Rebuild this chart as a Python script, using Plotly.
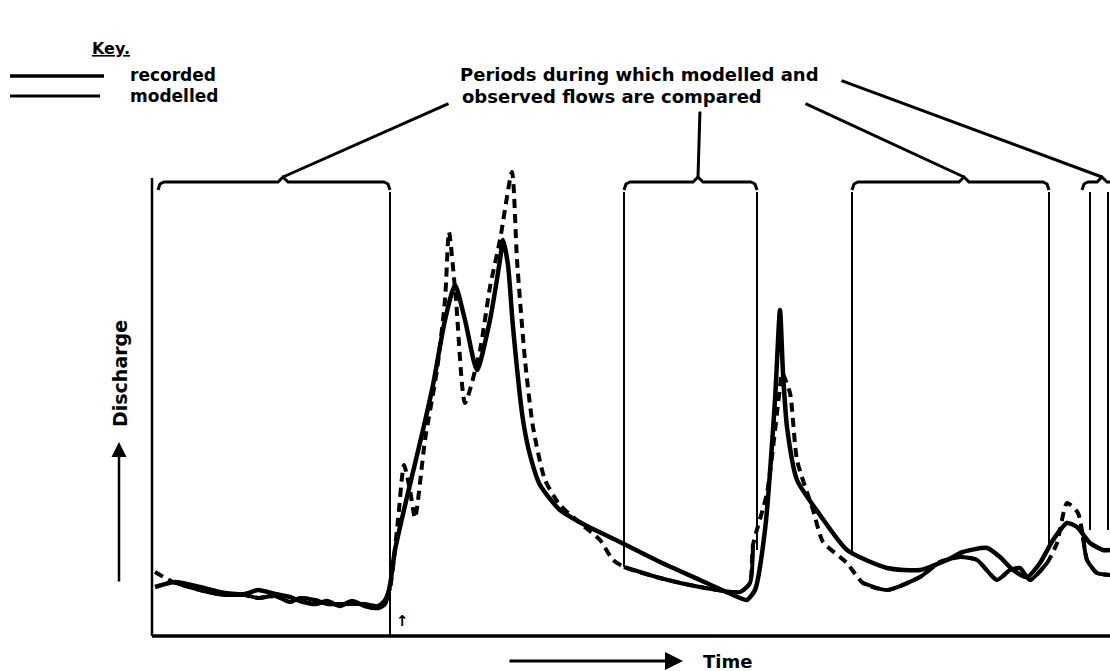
import numpy as np
import plotly.graph_objects as go

# ---- data (time units, discharge units) ----
rec_t = [3, 23, 48, 73, 93, 106, 123, 138, 148, 163, 175, 188, 200, 213, 226, 233, 238, 243, 255, 271, 281,
         293, 303, 313, 325, 338, 348, 351, 356, 361, 371, 378, 388, 408, 433, 468, 508, 548, 588, 595,
         603, 613, 623, 628, 631, 635, 645, 668, 695, 735, 768, 795, 811, 835, 848, 861, 875, 888, 901,
         915, 925, 938, 951, 958]
rec_q = [49, 54, 49, 43, 42, 46, 42, 39, 35, 32, 35, 30, 35, 30, 28, 32, 51, 86, 139, 206, 251,
         316, 351, 316, 266, 316, 376, 396, 371, 309, 216, 181, 151, 126, 111, 94, 74, 56, 38, 36,
         46, 106, 236, 326, 263, 209, 156, 121, 86, 68, 66, 76, 84, 88, 79, 66, 59, 73, 96,
         113, 109, 93, 86, 86]

mod_t = [3, 21, 48, 73, 93, 106, 123, 138, 148, 163, 175, 188, 200, 213, 226, 233, 238, 246, 252, 258,
         263, 273, 285, 293, 297, 304, 313, 328, 338, 348, 360, 365, 373, 381, 393, 408, 428, 448, 461,
         472, 508, 548, 588, 598, 601, 615, 628, 630, 638, 645, 661, 671, 688, 695, 711, 735, 768, 788,
         808, 825, 845, 858, 868, 878, 895, 905, 915, 926, 931, 935, 945, 958]
mod_q = [64, 54, 46, 41, 41, 38, 40, 34, 38, 36, 32, 32, 32, 32, 30, 36, 48, 116, 171, 146,
         118, 196, 266, 336, 404, 336, 233, 286, 349, 396, 464, 376, 276, 209, 156, 131, 113, 96, 76,
         69, 58, 49, 44, 53, 91, 143, 249, 263, 243, 176, 126, 94, 79, 73, 53, 46, 59, 74,
         79, 76, 56, 66, 68, 56, 73, 93, 133, 123, 99, 76, 63, 61]

period_start = [6, 472, 700, 930]
period_end = [238, 605, 897, 990]
bracket_peak = [131, 546, 812, 950]
boundary_t = [238, 472, 605, 700, 897, 938, 956]
boundary_bottom = [0, 69, 86, 81, 89, 106, 106]

key_labels = ["recorded", "modelled"]
title_lines = ["Periods during which modelled and", "observed flows are compared"]

X_MAX = 958
Y_MAX = 458
BRACKET_Q = 454
FONT = "'DejaVu Sans', sans-serif"

fig = go.Figure()

# modelled dashed (full)
fig.add_trace(go.Scatter(x=mod_t, y=mod_q, mode="lines",
                         line=dict(color="black", width=4, dash="9px,6px", shape="spline", smoothing=0.6),
                         hoverinfo="skip"))
# modelled solid within comparison periods
mt = np.array(mod_t, dtype=float)
mq = np.array(mod_q, dtype=float)
inside = np.zeros(len(mt), dtype=bool)
for a, b in zip(period_start, period_end):
    inside |= (mt >= a) & (mt <= b)
mq_in = np.where(inside, mq, np.nan)
fig.add_trace(go.Scatter(x=mt, y=mq_in, mode="lines", connectgaps=False,
                         line=dict(color="black", width=4, shape="spline", smoothing=0.6),
                         hoverinfo="skip"))
# recorded solid
fig.add_trace(go.Scatter(x=rec_t, y=rec_q, mode="lines",
                         line=dict(color="black", width=4.5, shape="spline", smoothing=0.6),
                         hoverinfo="skip"))

shapes = []
# axes
shapes.append(dict(type="line", xref="x", yref="y", x0=0, x1=0, y0=0, y1=Y_MAX,
                   line=dict(color="black", width=2.5)))
shapes.append(dict(type="line", xref="x", yref="y", x0=0, x1=X_MAX, y0=0, y1=0,
                   line=dict(color="black", width=3.5)))
# boundary verticals
for t, b in zip(boundary_t, boundary_bottom):
    shapes.append(dict(type="line", xref="x", yref="y", x0=t, x1=t, y0=b, y1=Y_MAX - 14,
                       line=dict(color="black", width=2)))
fig.update_layout(shapes=shapes)

# brackets
for a, b, c in zip(period_start, period_end, bracket_peak):
    bx = [a, a + 2, a + 6, c - 5, c, c + 5, b - 6, b - 2, b]
    by = [BRACKET_Q - 8, BRACKET_Q - 2, BRACKET_Q, BRACKET_Q, BRACKET_Q + 5, BRACKET_Q, BRACKET_Q,
          BRACKET_Q - 2, BRACKET_Q - 8]
    fig.add_trace(go.Scatter(x=bx, y=by, mode="lines", line=dict(color="black", width=3),
                             hoverinfo="skip"))

# key lines
fig.add_trace(go.Scatter(x=[-142, -48], y=[560, 560], mode="lines",
                         line=dict(color="black", width=3.5), hoverinfo="skip"))
fig.add_trace(go.Scatter(x=[-142, -52], y=[540, 540], mode="lines",
                         line=dict(color="black", width=3), hoverinfo="skip"))

ann = []
ann.append(dict(x=-62, y=588, text="<b><u>Key.</u></b>", showarrow=False, xanchor="left",
                font=dict(family=FONT, size=16, color="black")))
ann.append(dict(x=-24, y=561, text="<b>" + key_labels[0] + "</b>", showarrow=False, xanchor="left",
                font=dict(family=FONT, size=17, color="black")))
ann.append(dict(x=-24, y=540, text="<b>" + key_labels[1] + "</b>", showarrow=False, xanchor="left",
                font=dict(family=FONT, size=17, color="black")))
ann.append(dict(x=306, y=562, text="<b>" + title_lines[0] + "</b>", showarrow=False, xanchor="left",
                font=dict(family=FONT, size=18, color="black")))
ann.append(dict(x=308, y=540, text="<b>" + title_lines[1] + "</b>", showarrow=False, xanchor="left",
                font=dict(family=FONT, size=18, color="black")))

# leader lines (no arrowheads)
leaders = [((298, 533), (bracket_peak[0], BRACKET_Q + 5)),
           ((548, 526), (bracket_peak[1], BRACKET_Q + 5)),
           ((652, 533), (bracket_peak[2], BRACKET_Q + 5)),
           ((688, 556), (bracket_peak[3], BRACKET_Q + 5))]
for (x0, y0), (x1, y1) in leaders:
    ann.append(dict(x=x1, y=y1, ax=x0, ay=y0, xref="x", yref="y", axref="x", ayref="y",
                    text="", showarrow=True, arrowhead=0, arrowwidth=3, arrowcolor="black"))

# Discharge arrow + label
ann.append(dict(x=-33, y=194, ax=-33, ay=53, xref="x", yref="y", axref="x", ayref="y", text="",
                showarrow=True, arrowhead=2, arrowsize=1.2, arrowwidth=2.5, arrowcolor="black"))
ann.append(dict(x=-32, y=262, text="<b>Discharge</b>", textangle=-90, showarrow=False,
                font=dict(family=FONT, size=19, color="black")))
# Time arrow + label
ann.append(dict(x=531, y=-25, ax=356, ay=-25, xref="x", yref="y", axref="x", ayref="y", text="",
                showarrow=True, arrowhead=2, arrowsize=1.2, arrowwidth=3, arrowcolor="black"))
ann.append(dict(x=549, y=-25, text="<b>Time</b>", showarrow=False, xanchor="left",
                font=dict(family=FONT, size=18, color="black")))
# small marker near axis
ann.append(dict(x=250, y=15, text="<b>↑</b>", showarrow=False,
                font=dict(family=FONT, size=15, color="black")))

fig.update_layout(
    annotations=ann,
    width=1110, height=671,
    margin=dict(l=0, r=0, t=0, b=0),
    paper_bgcolor="white", plot_bgcolor="white",
    showlegend=False,
    xaxis=dict(range=[-152, X_MAX], visible=False, fixedrange=True),
    yaxis=dict(range=[-35, 636], visible=False, fixedrange=True),
)

fig.write_html("out.html")
